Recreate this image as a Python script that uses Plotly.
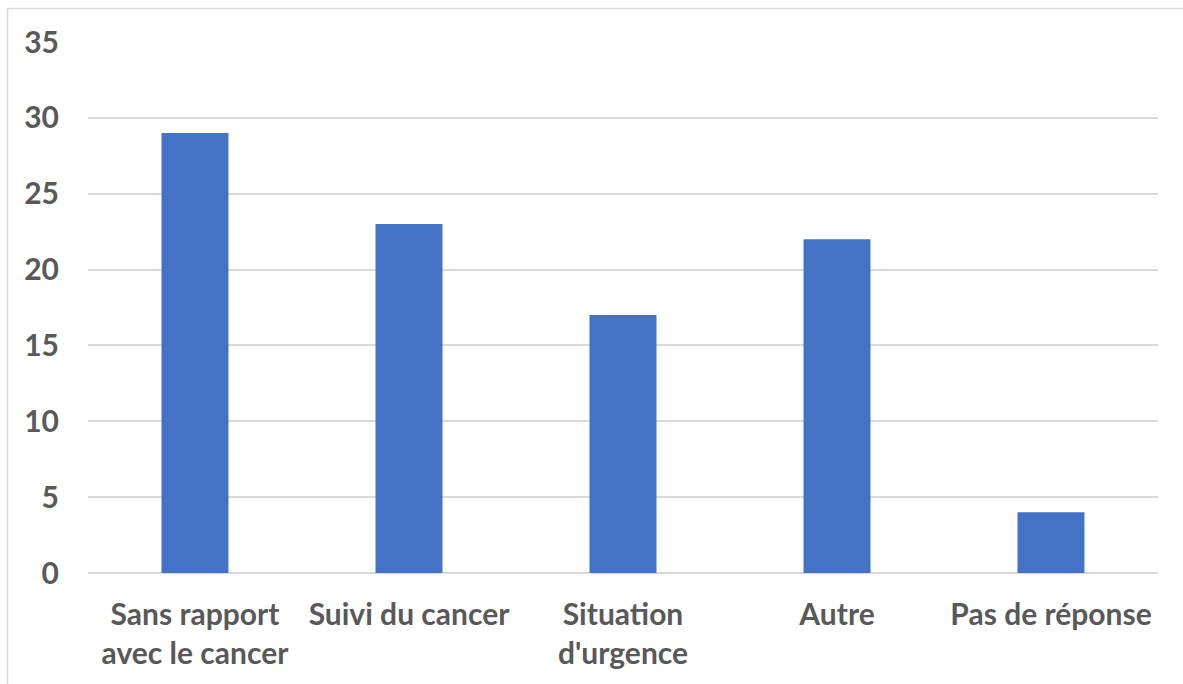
import plotly.graph_objects as go

categories = ["Sans rapport<br>avec le cancer", "Suivi du cancer", "Situation<br>d'urgence", "Autre", "Pas de réponse"]
values = [29, 23, 17, 22, 4]
y_ticks = [0, 5, 10, 15, 20, 25, 30, 35]

L, R, T, B = 88, 25, 42, 111
W, H = 1183, 684
pw, ph = W - L - R, H - T - B

fig = go.Figure(go.Bar(x=categories, y=values, marker=dict(color="#4472C4", line=dict(width=0)), hoverinfo="skip"))

font = dict(family="Lato", size=30, color="#595959", weight="bold")

fig.update_layout(
    width=W, height=H,
    margin=dict(l=L, r=R, t=T, b=B),
    plot_bgcolor="white", paper_bgcolor="white",
    bargap=0.687,
    showlegend=False,
    font=font,
    xaxis=dict(showgrid=False, showline=False, ticks="", tickfont=font, ticklabelstandoff=21),
    yaxis=dict(range=[0, 35], tickvals=y_ticks, showgrid=True, gridcolor="#D9D9D9", gridwidth=1.5,
               zeroline=True, zerolinecolor="#D9D9D9", zerolinewidth=1.5, showline=False,
               ticks="", tickfont=font, ticklabelstandoff=28),
    shapes=[dict(type="rect", xref="paper", yref="paper",
                 x0=(7.5 - L) / pw, x1=(W + 20 - L) / pw,
                 y0=(T + ph - (H + 20)) / ph, y1=(T + ph - 8.5) / ph,
                 line=dict(color="#D9D9D9", width=1.5), layer="below")],
)

fig.write_html(
    "out.html",
    config={"displayModeBar": False},
    post_script="document.body.style.margin='0';document.body.style.overflow='hidden';",
)
